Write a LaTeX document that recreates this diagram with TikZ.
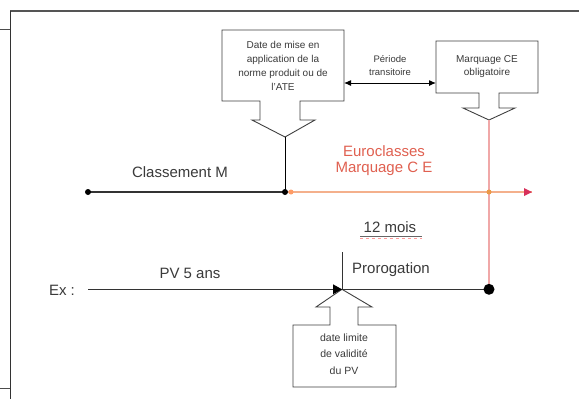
\documentclass[tikz,border=0pt]{standalone}
\usepackage{fontspec}
\setmainfont{Liberation Sans}
\usetikzlibrary{arrows.meta}
\definecolor{txt}{HTML}{3A3A3A}
\definecolor{euro}{HTML}{E06050}
\definecolor{orline}{HTML}{F4B08C}
\definecolor{redline}{HTML}{F0A8A8}
\definecolor{redtip}{HTML}{D8305A}
\definecolor{frame}{HTML}{555555}
\tikzset{
  callout/.style={draw=black!75, line width=0.9pt, fill=white, line join=miter},
  lbl/.style={text=txt, inner sep=0pt, align=center},
  dotb/.style={circle, fill=black, inner sep=0pt, minimum size=#1},
  doto/.style={circle, fill=orange!70!red!60, inner sep=0pt, minimum size=5pt},
  tl/.style={line width=1.1pt, draw=black!80},
}
\begin{document}
\begin{tikzpicture}[x=1pt,y=-1pt]
\useasboundingbox (0,0) rectangle (579,399);
\fill[white] (0,0) rectangle (579,399);
% frame
\draw[frame, line width=1.1pt] (10,11) -- (579,11);
\draw[black!80, line width=0.9pt] (10,11) -- (10,399);
\draw[black!70, line width=0.8pt] (0,29) -- (10,29);
\draw[black!70, line width=0.8pt] (0,388) -- (10,388);

% coordinates
\coordinate (cmL) at (88,192);
\coordinate (cmR) at (285,192);
\coordinate (euR) at (532,192);
\coordinate (exL) at (88,289.3);
\coordinate (exR) at (489,289.3);
\coordinate (proTop) at (342,252);
\coordinate (proBot) at (342,289.3);
\coordinate (t1) at (285,137);
\coordinate (t2) at (489,120);
\coordinate (e2) at (489,192);

% callout 1
\draw[callout] (222,30) -- (344,30) -- (344,101) -- (300,101) -- (300,120) -- (315,120)
  -- (t1) -- (252,120) -- (260,120) -- (260,101) -- (222,101) -- cycle;
% callout 2
\draw[callout] (436,41) -- (538,41) -- (538,93) -- (499,93) -- (499,108) -- (515,108)
  -- (t2) -- (463,108) -- (479,108) -- (479,93) -- (436,93) -- cycle;
% callout 3
\draw[callout] (293,387) -- (396,387) -- (396,325) -- (358,325) -- (358,307) -- (372,307)
  -- (proBot) -- (316,307) -- (330,307) -- (330,325) -- (293,325) -- cycle;

\node[lbl, font=\fontsize{10}{14}\selectfont] (b1) at (283,66)
  {Date de mise en\\application de la\\norme produit ou de\\l'ATE};
\node[lbl, font=\fontsize{10}{13}\selectfont] (b2) at (487,67)
  {Marquage CE\\obligatoire};
\node[lbl, font=\fontsize{10.5}{16.5}\selectfont] (b3) at (344,354)
  {date limite\\de validité\\du PV};

% transition period
\coordinate (pa) at (344,83);
\coordinate (pb) at (436,83);
\draw[line width=1pt, {Latex[length=7pt,width=6pt]}-{Latex[length=7pt,width=6pt]}] (pa) -- (pb);
\node[lbl, font=\fontsize{9.5}{13}\selectfont] (pt) at (390,66) {Période\\transitoire};

% vertical lines from callouts
\draw[black, line width=1pt] (t1) -- (cmR);
\draw[redline, line width=1.1pt] (t2) -- (exR);

% Classement M line
\draw[tl] (cmL) -- (cmR);
\draw[orline, line width=1.2pt] (cmR) -- (euR);
\fill[redtip] (euR) -- ++(-8,-4) -- ++(0,8) -- cycle;
\node[dotb=6pt] (d1) at (cmL) {};
\node[dotb=6pt] (d2) at (cmR) {};
\node[doto] (d3) at (291,192) {};
\node[doto, fill=orange!60!brown!80] (d4) at (e2) {};
\node[lbl, font=\fontsize{15}{15}\selectfont] (clm) at (180,172) {Classement M};
\node[lbl, text=euro, font=\fontsize{15}{16}\selectfont] (eu) at (384,161) {Euroclasses\\Marquage C E};

% 12 mois
\node[lbl, font=\fontsize{15}{15}\selectfont] (m12) at (390,227) {12 mois};
\draw[black!60, line width=0.6pt] (360,236) -- (422,236);
\draw[red!40, line width=0.5pt, dashed] (360,238) -- (422,238);

% Ex line
\node[lbl, font=\fontsize{15}{15}\selectfont] (pro) at (391,270) {Prorogation};
\node[lbl, font=\fontsize{15}{15}\selectfont] (ex) at (62,290) {Ex :};
\node[lbl, font=\fontsize{15}{15}\selectfont] (pv) at (190,273) {PV 5 ans};
\draw[black!80, line width=1pt] (proTop) -- (proBot);
\draw[tl] (exL) -- (exR);
\fill[black] (proBot) -- ++(-9,-5) -- ++(0,10) -- cycle;
\node[dotb=11pt] (d5) at (exR) {};
\end{tikzpicture}
\end{document}
